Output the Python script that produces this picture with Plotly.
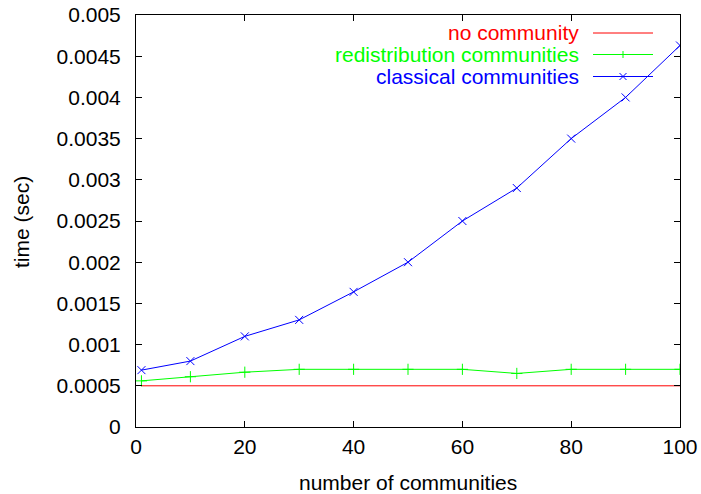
import plotly.graph_objects as go

# ---- data ----
x_vals = [1, 10, 20, 30, 40, 50, 60, 70, 80, 90, 100]
no_community = [0.0005] * 11
redistribution = [0.00056, 0.00061, 0.000665, 0.0007, 0.0007, 0.0007, 0.0007, 0.00065, 0.0007, 0.0007, 0.0007]
classical = [0.00069, 0.0008, 0.0011, 0.0013, 0.00164, 0.002, 0.0025, 0.0029, 0.0035, 0.004, 0.00463]

x_ticks = [0, 20, 40, 60, 80, 100]
y_ticks = [0, 0.0005, 0.001, 0.0015, 0.002, 0.0025, 0.003, 0.0035, 0.004, 0.0045, 0.005]
y_tick_labels = ["0", "0.0005", "0.001", "0.0015", "0.002", "0.0025", "0.003", "0.0035", "0.004", "0.0045", "0.005"]

series_names = ["no community", "redistribution communities", "classical communities"]
series_colors = ["#ff0000", "#00ff00", "#0000ff"]
x_title = "number of communities"
y_title = "time (sec)"

FONT = "Liberation Sans, Arial, Helvetica, sans-serif"
FS = 21

fig = go.Figure()
fig.add_trace(go.Scatter(x=x_vals, y=no_community, mode="lines",
                         line=dict(color=series_colors[0], width=1), name=series_names[0]))
fig.add_trace(go.Scatter(x=x_vals, y=redistribution, mode="lines+markers",
                         line=dict(color=series_colors[1], width=1),
                         marker=dict(symbol="cross-thin", size=8, line=dict(color=series_colors[1], width=1)),
                         name=series_names[1]))
fig.add_trace(go.Scatter(x=x_vals, y=classical, mode="lines+markers",
                         line=dict(color=series_colors[2], width=1),
                         marker=dict(symbol="x-thin", size=8, line=dict(color=series_colors[2], width=1)),
                         name=series_names[2]))

L, R, T, B = 136, 21, 15, 67
W, H = 701, 494
pw, ph = W - L - R, H - T - B

def px(x):
    return (x - L) / pw
def py(y):
    return (H - B - y) / ph

# manual gnuplot-style legend (text left of sample)
rows_y = [33, 54.5, 76.5]
text_right = 581
samp_x0, samp_x1 = 593, 653
mid = (samp_x0 + samp_x1) / 2
shapes = []
annotations = []
for i, (nm, col, yy) in enumerate(zip(series_names, series_colors, rows_y)):
    annotations.append(dict(x=px(text_right), y=py(yy), xref="paper", yref="paper",
                            text=nm, showarrow=False, xanchor="right", yanchor="middle",
                            font=dict(family=FONT, size=FS, color=col)))
    shapes.append(dict(type="line", xref="paper", yref="paper",
                       x0=px(samp_x0), x1=px(samp_x1), y0=py(yy), y1=py(yy),
                       line=dict(color=col, width=1)))
    h = 3.5
    if i == 1:
        shapes.append(dict(type="line", xref="paper", yref="paper", x0=px(mid), x1=px(mid),
                           y0=py(yy - h), y1=py(yy + h), line=dict(color=col, width=1)))
        shapes.append(dict(type="line", xref="paper", yref="paper", x0=px(mid - h), x1=px(mid + h),
                           y0=py(yy), y1=py(yy), line=dict(color=col, width=1)))
    if i == 2:
        shapes.append(dict(type="line", xref="paper", yref="paper", x0=px(mid - h), x1=px(mid + h),
                           y0=py(yy - h), y1=py(yy + h), line=dict(color=col, width=1)))
        shapes.append(dict(type="line", xref="paper", yref="paper", x0=px(mid - h), x1=px(mid + h),
                           y0=py(yy + h), y1=py(yy - h), line=dict(color=col, width=1)))

# axis titles
annotations.append(dict(x=px(408), y=py(482), xref="paper", yref="paper", text=x_title,
                        showarrow=False, xanchor="center", yanchor="middle",
                        font=dict(family=FONT, size=FS, color="black")))
annotations.append(dict(x=px(21), y=py(222), xref="paper", yref="paper", text=y_title,
                        showarrow=False, xanchor="center", yanchor="middle", textangle=-90,
                        font=dict(family=FONT, size=FS, color="black")))

axis_common = dict(showgrid=False, zeroline=False, showline=True, linecolor="black", linewidth=1,
                   mirror="ticks", ticks="inside", ticklen=6, tickcolor="black", tickwidth=1,
                   automargin=False,
                   tickfont=dict(family=FONT, size=FS, color="black"))

fig.update_layout(
    width=W, height=H,
    margin=dict(l=L, r=R, t=T, b=B, pad=0),
    paper_bgcolor="white", plot_bgcolor="white",
    showlegend=False,
    font=dict(family=FONT, size=FS, color="black"),
    xaxis=dict(range=[0, 100], tickvals=x_ticks, ticklabelstandoff=1, **axis_common),
    yaxis=dict(range=[0, 0.005], tickvals=y_ticks, ticktext=y_tick_labels, ticklabelstandoff=10,
               **axis_common),
    shapes=shapes, annotations=annotations,
)

fig.write_html("out.html", config={"displayModeBar": False},
               post_script="document.body.style.margin='0px';document.body.style.padding='0px';"
                           "document.body.style.overflow='hidden';")
